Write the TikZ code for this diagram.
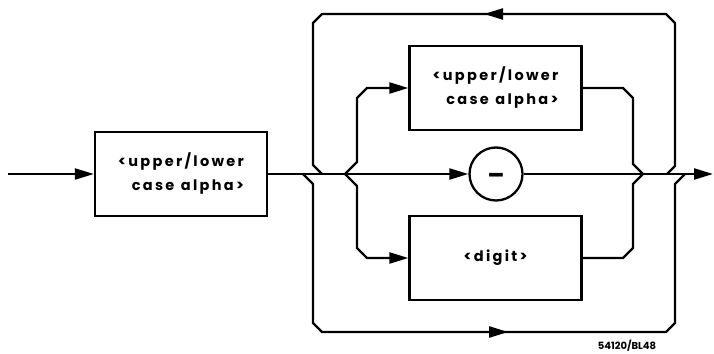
\documentclass[tikz,border=0pt]{standalone}
\usepackage{fontspec}
\usetikzlibrary{arrows.meta,decorations.markings}
\newfontfamily\plotfont{Poppins}[LetterSpace=16]
\newfontfamily\labfont{Poppins}
\newcommand\wsp{\hspace{0.45em}}
\begin{document}
\begin{tikzpicture}[x=1pt,y=-1pt,line width=2.3pt,
  box/.style={draw,minimum width=172pt,minimum height=84pt,inner sep=0pt,
    font=\plotfont\bfseries\fontsize{14.5}{24}\selectfont,align=right},
  arr/.style={-{Triangle[length=19pt,width=11pt]}},
  midarrow/.style={postaction={decorate},decoration={markings,
    mark=at position #1 with {\arrow{Triangle[length=19pt,width=11pt]}}}}]
\useasboundingbox (0,0) rectangle (714,353);
\node[box] (b1) at (181,174) {<upper/lower\\case\wsp alpha>};
\node[box] (b2) at (495.5,88) {<upper/lower\\case\wsp alpha>};
\node[box] (b3) at (495.5,258) {<digit>};
\node[circle,draw,minimum size=53pt,inner sep=0pt,
  font=\labfont\bfseries\fontsize{22}{22}\selectfont] (c) at (496,174) {\raisebox{-2pt}{\_}};
\coordinate (in) at (8,174);
\coordinate (out) at (713,174);
\coordinate (oTR) at (667,174);
\coordinate (oTL) at (322,174);
\coordinate (oBL) at (303,174);
\coordinate (oBR) at (685,174);
\coordinate (iL) at (345,174);
\coordinate (iR) at (643,174);
\draw[arr] (in) -- (b1.west);
\draw[arr] (b1.east) -- (c.west);
\draw[arr] (c.east) -- (out);
% outer loop back
\draw[midarrow=349pt] (oTR) -- (675,166) -- (675,23) -- (666,14) -- (322,14) -- (313,23) -- (313,165) -- (oTL);
% outer bypass
\draw[midarrow=352pt] (oBL) -- (313,184) -- (313,323) -- (322,332) -- (666,332) -- (675,323) -- (675,184) -- (oBR);
% inner branches
\draw[arr] (iL) -- (357,162) -- (357,98) -- (367,88) -- (b2.west);
\draw[arr] (iL) -- (357,186) -- (357,248) -- (367,258) -- (b3.west);
\draw (b2.east) -- (623,88) -- (633,98) -- (633,164) -- (iR);
\draw (b3.east) -- (623,258) -- (633,248) -- (633,184) -- (iR);
\node[font=\labfont\bfseries\fontsize{10}{10}\selectfont] (lab) at (627,346) {54120/BL48};
\end{tikzpicture}
\end{document}
